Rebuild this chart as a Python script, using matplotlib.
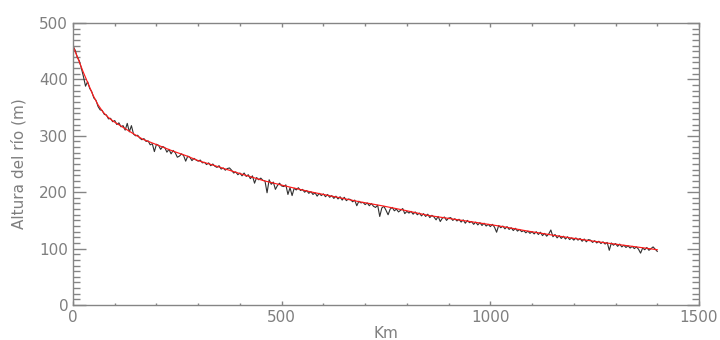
import numpy as np
import matplotlib
matplotlib.use("Agg")
import matplotlib.pyplot as plt
from matplotlib.ticker import MultipleLocator

# Observed river profile (black), sampled every 5 km from 0 to 1400 km
obs_km = np.arange(0, 1401, 5)
obs_h = [
    459, 452, 440, 433, 420, 405, 388, 396, 384, 378, 367, 363, 352, 346, 345, 338, 337, 330, 331, 325, 327,
    320, 323, 316, 318, 310, 322, 307, 318, 303, 300, 301, 296, 293, 295, 290, 291, 284, 286, 272, 285,
    283, 276, 281, 279, 271, 276, 268, 274, 270, 262, 264, 268, 265, 255, 264, 262, 256, 260, 257, 255,
    257, 252, 253, 249, 252, 247, 250, 246, 244, 247, 241, 243, 239, 242, 243, 239, 234, 236, 231, 234,
    229, 234, 228, 231, 224, 229, 216, 226, 222, 225, 221, 220, 199, 222, 214, 218, 205, 212, 216, 211,
    210, 213, 196, 208, 194, 207, 204, 208, 203, 205, 200, 203, 198, 201, 196, 199, 193, 198, 194, 197,
    192, 196, 191, 194, 189, 193, 188, 192, 186, 191, 185, 188, 187, 183, 186, 176, 184, 181, 182, 178,
    181, 176, 180, 175, 173, 177, 157, 172, 175, 168, 160, 170, 173, 167, 170, 165, 168, 171, 162, 166,
    163, 166, 161, 165, 160, 163, 158, 162, 157, 161, 155, 159, 156, 151, 157, 148, 154, 156, 150, 154,
    155, 150, 153, 149, 152, 147, 151, 145, 150, 146, 148, 143, 147, 142, 146, 141, 145, 140, 143, 139,
    143, 138, 129, 141, 137, 140, 135, 139, 134, 137, 132, 136, 131, 134, 130, 132, 128, 131, 127, 130,
    126, 130, 125, 129, 123, 127, 122, 126, 133, 121, 125, 119, 123, 118, 122, 117, 121, 116, 119, 115,
    119, 115, 118, 113, 117, 112, 116, 115, 111, 114, 110, 113, 109, 112, 108, 111, 97, 110, 106, 109,
    104, 108, 103, 106, 102, 105, 101, 104, 100, 103, 99, 92, 101, 98, 102, 97, 100, 103, 99, 95,
]

# Fitted smooth profile (red)
fit_km = [0, 12, 24, 36, 48, 60, 72, 84, 96, 120, 144, 167, 191, 215, 239, 270, 300, 340,
          400, 459, 520, 567, 620, 687, 740, 794, 850, 914, 960, 1022, 1090, 1165, 1220,
          1273, 1340, 1400]
fit_h = [459, 437, 414, 393, 372, 355, 342, 333, 326, 315, 304, 294, 287, 280, 273, 265, 256, 247,
         233, 220, 209, 201, 193, 183, 176, 168, 159, 152, 147, 140, 131, 122, 116,
         110.5, 104, 98]

xlim = (0, 1500)
ylim = (0, 500)
xlabel = "Km"
ylabel = "Altura del río (m)"

axis_gray = "#858585"
text_gray = "#7f7f7f"

fig = plt.figure(figsize=(7.2, 3.4), dpi=100)
ax = fig.add_axes([73 / 720, 35 / 340, 626 / 720, 282 / 340])

ax.plot(obs_km, obs_h, color="#303030", lw=0.8)
ax.plot(fit_km, fit_h, color="#ff1a1a", lw=0.85)

ax.set_xlim(*xlim)
ax.set_ylim(*ylim)
ax.xaxis.set_major_locator(MultipleLocator(500))
ax.xaxis.set_minor_locator(MultipleLocator(100))
ax.yaxis.set_major_locator(MultipleLocator(100))
ax.yaxis.set_minor_locator(MultipleLocator(10))

for s in ax.spines.values():
    s.set_color(axis_gray)
    s.set_linewidth(1.0)

ax.tick_params(axis="both", which="both", direction="in", top=True, right=True,
               color=axis_gray, labelcolor=text_gray, labelsize=11, pad=3.5)
ax.tick_params(axis="x", which="major", length=3.2, width=1.0)
ax.tick_params(axis="x", which="minor", length=1.8, width=1.0)
ax.tick_params(axis="y", which="major", length=9, width=1.0)
ax.tick_params(axis="y", which="minor", length=5, width=1.0)

ax.set_xlabel(xlabel, color=text_gray, fontsize=11, labelpad=1)
ax.set_ylabel(ylabel, color=text_gray, fontsize=11, labelpad=9)

fig.savefig("out.png", dpi=100)
